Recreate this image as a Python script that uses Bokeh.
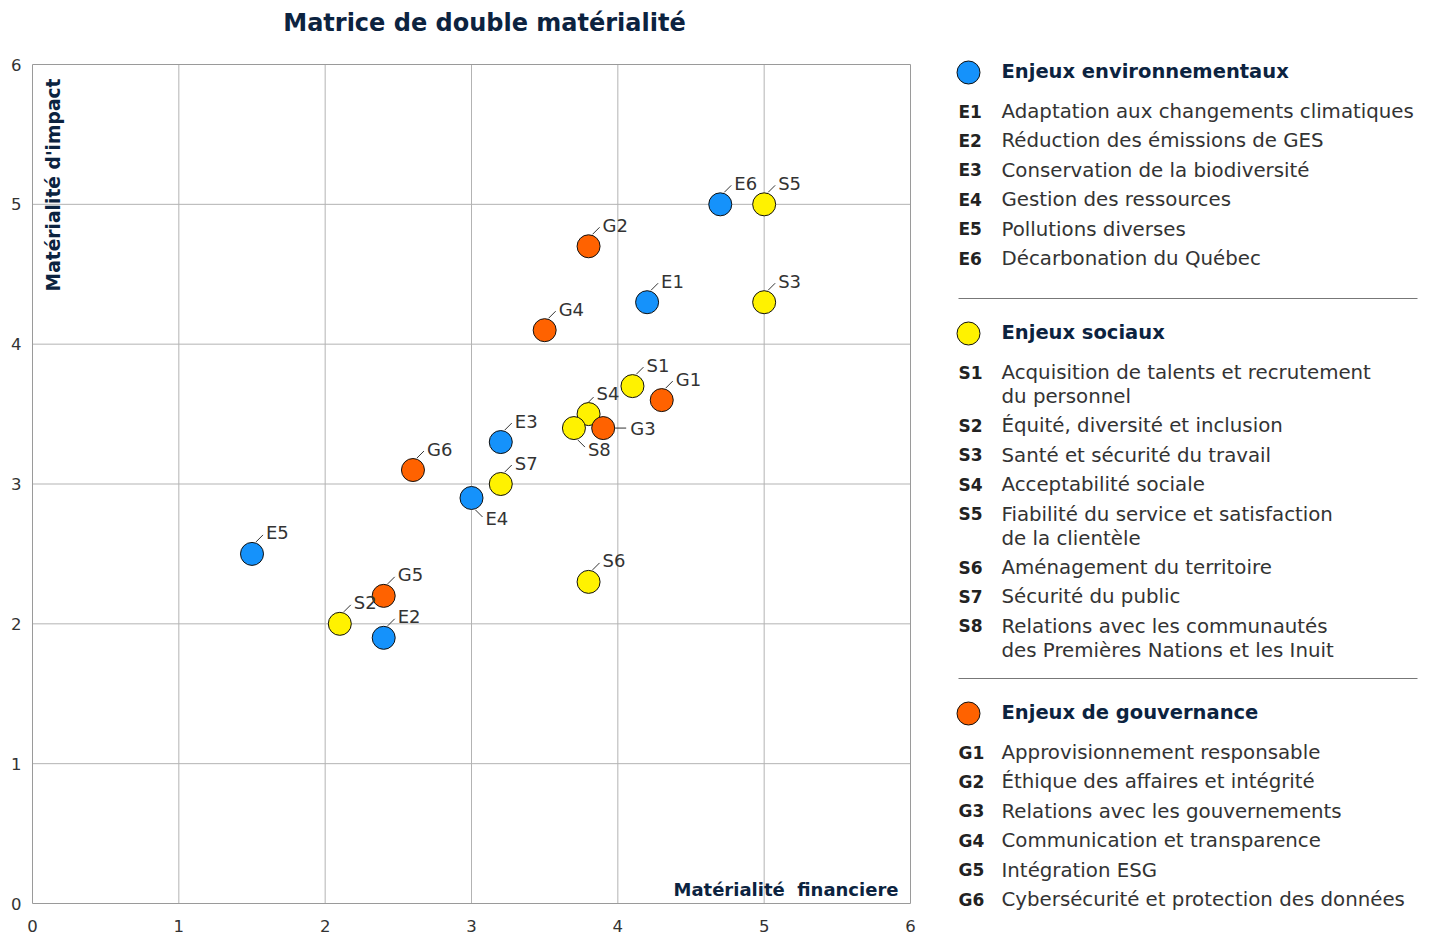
import math
from bokeh.plotting import figure
from bokeh.models import ColumnDataSource, Range1d, Label, LabelSet, FixedTicker
from bokeh.embed import file_html
from bokeh.resources import INLINE
from bokeh.core.properties import value

# ---------------- data ----------------
title_text = "Matrice de double matérialité"
x_title = "Matérialité\u00a0 financiere"
y_title = "Matérialité d'impact"
ticks = [0, 1, 2, 3, 4, 5, 6]

env_heading = "Enjeux environnementaux"
env_codes = ["E1", "E2", "E3", "E4", "E5", "E6"]
env_x = [4.2, 2.4, 3.2, 3.0, 1.5, 4.7]
env_y = [4.3, 1.9, 3.3, 2.9, 2.5, 5.0]
env_names = [
    "Adaptation aux changements climatiques",
    "Réduction des émissions de GES",
    "Conservation de la biodiversité",
    "Gestion des ressources",
    "Pollutions diverses",
    "Décarbonation du Québec",
]

soc_heading = "Enjeux sociaux"
soc_codes = ["S1", "S2", "S3", "S4", "S5", "S6", "S7", "S8"]
soc_x = [4.1, 2.1, 5.0, 3.8, 5.0, 3.8, 3.2, 3.7]
soc_y = [3.7, 2.0, 4.3, 3.5, 5.0, 2.3, 3.0, 3.4]
soc_names = [
    "Acquisition de talents et recrutement\ndu personnel",
    "Équité, diversité et inclusion",
    "Santé et sécurité du travail",
    "Acceptabilité sociale",
    "Fiabilité du service et satisfaction\nde la clientèle",
    "Aménagement du territoire",
    "Sécurité du public",
    "Relations avec les communautés\ndes Premières Nations et les Inuit",
]

gov_heading = "Enjeux de gouvernance"
gov_codes = ["G1", "G2", "G3", "G4", "G5", "G6"]
gov_x = [4.3, 3.8, 3.9, 3.5, 2.4, 2.6]
gov_y = [3.6, 4.7, 3.4, 4.1, 2.2, 3.1]
gov_names = [
    "Approvisionnement responsable",
    "Éthique des affaires et intégrité",
    "Relations avec les gouvernements",
    "Communication et transparence",
    "Intégration ESG",
    "Cybersécurité et protection des données",
]

# ---------------- style / layout ----------------
FONT = "DejaVu Sans"
NAVY = "#0c2340"
TEXT = "#333333"
COLORS = {"env": "#1592fb", "soc": "#fff200", "gov": "#ff6200"}
MARKER = 23

W, H = 1430, 934
X0P, Y0P = 32, 903          # pixel position of the data origin
FW, FH = 878, 839           # pixel size of the 0..6 square
PX = FW / 6.0
PY = FH / 6.0


def dx(px):
    return (px - X0P) / PX


def dy(py):
    return (Y0P - py) / PY


# label placement (screen px, y down): leader start, leader end, text anchor
PLACE = {
    "ur": ((4, -12), (11, -19), (14, -21)),
    "dr": ((4, 12), (11, 19), (14, 21)),
    "r": ((12, 0), (23, 0), (27, 0)),
    "u": ((-1, -11), (5, -17), (8, -21)),
}
placement = {"E4": "dr", "S8": "dr", "G3": "r", "S4": "u"}

p = figure(frame_width=W, frame_height=H,
           x_range=Range1d(dx(0), dx(W)), y_range=Range1d(dy(H), dy(0)),
           output_backend="svg", toolbar_location=None,
           min_border_left=0, min_border_right=0, min_border_top=0, min_border_bottom=0)
p.grid.visible = False
p.outline_line_color = None
p.xaxis.fixed_location = 0
p.yaxis.fixed_location = 0
p.xaxis.ticker = FixedTicker(ticks=ticks)
p.yaxis.ticker = FixedTicker(ticks=ticks)
p.axis.axis_line_color = None
p.axis.major_tick_line_color = None
p.axis.minor_tick_line_color = None
p.axis.major_tick_in = 0
p.axis.major_tick_out = 0
p.axis.major_label_text_font = FONT
p.axis.major_label_text_font_size = "16.5px"
p.axis.major_label_text_color = TEXT
p.xaxis.major_label_standoff = 16
p.yaxis.major_label_standoff = 11

# grid lines and frame, from the tick values
inner = ticks[1:-1]
p.segment(x0=inner, y0=[ticks[0]] * len(inner), x1=inner, y1=[ticks[-1]] * len(inner),
          line_color="#b3b3b3", line_width=1)
p.segment(x0=[ticks[0]] * len(inner), y0=inner, x1=[ticks[-1]] * len(inner), y1=inner,
          line_color="#b3b3b3", line_width=1)
p.quad(left=[ticks[0]], right=[ticks[-1]], bottom=[ticks[0]], top=[ticks[-1]],
       fill_color=None, line_color="#9a9a9a", line_width=1)

groups = [
    ("env", env_codes, env_x, env_y),
    ("soc", soc_codes, soc_x, soc_y),
    ("gov", gov_codes, gov_x, gov_y),
]

sx0, sy0, sx1, sy1 = [], [], [], []
lx, ly, lxo, lyo, ltxt = [], [], [], [], []
for key, codes, xs, ys in groups:
    for c, xv, yv in zip(codes, xs, ys):
        (a, b), (cc, d), (tx, ty) = PLACE[placement.get(c, "ur")]
        sx0.append(xv + a / PX)
        sy0.append(yv - b / PY)
        sx1.append(xv + cc / PX)
        sy1.append(yv - d / PY)
        lx.append(xv)
        ly.append(yv)
        lxo.append(tx)
        lyo.append(-ty)
        ltxt.append(c)

p.segment(x0=sx0, y0=sy0, x1=sx1, y1=sy1, line_color="#333333", line_width=1)

for key, codes, xs, ys in groups:
    p.scatter(x=xs, y=ys, size=MARKER, fill_color=COLORS[key], line_color="#111111",
              line_width=1)

lsrc = ColumnDataSource(dict(x=lx, y=ly, xo=lxo, yo=lyo, t=ltxt))
p.add_layout(LabelSet(x="x", y="y", x_offset="xo", y_offset="yo", text="t", source=lsrc,
                      text_font=value(FONT), text_font_size="18px", text_color=TEXT,
                      text_baseline="middle", text_align="left"))

p.add_layout(Label(x=dx(484), y=dy(22), text=title_text,
                   text_font=FONT, text_font_size="24px", text_font_style="bold",
                   text_color=NAVY, text_align="center", text_baseline="middle"))
p.add_layout(Label(x=0, y=6, x_offset=21, y_offset=-14, text=y_title, angle=math.pi / 2,
                   text_font=FONT, text_font_size="18.7px", text_font_style="bold",
                   text_color=NAVY, text_align="right", text_baseline="middle"))
p.add_layout(Label(x=6, y=0, x_offset=-12, y_offset=14, text=x_title,
                   text_font=FONT, text_font_size="18px", text_font_style="bold",
                   text_color=NAVY, text_align="right", text_baseline="alphabetic"))

# ---------------- legend panel ----------------
heading_y = [71, 332, 712]
separator_y = [298, 678]
ROW = 29.4
SUB = 24
legend_groups = [
    ("env", env_heading, env_codes, env_names),
    ("soc", soc_heading, soc_codes, soc_names),
    ("gov", gov_heading, gov_codes, gov_names),
]
cx, cy, ccol = [], [], []
hx, hy, ht = [], [], []
kx, ky, kt = [], [], []
nx, ny, nt = [], [], []
for (key, head, codes, names), hy0 in zip(legend_groups, heading_y):
    cx.append(dx(968))
    cy.append(dy(hy0 + 1))
    ccol.append(COLORS[key])
    hx.append(dx(1001))
    hy.append(dy(hy0))
    ht.append(head)
    yy = hy0 + 40
    for c, n in zip(codes, names):
        kx.append(dx(958))
        ky.append(dy(yy))
        kt.append(c)
        lines = n.split("\n")
        for i, ln in enumerate(lines):
            nx.append(dx(1001))
            ny.append(dy(yy + i * SUB))
            nt.append(ln)
        yy += ROW + SUB * (len(lines) - 1)

p.scatter(x=cx, y=cy, size=MARKER, fill_color=ccol, line_color="#111111", line_width=1)
p.text(x=hx, y=hy, text=ht, text_font=value(FONT), text_font_size="19.5px",
       text_font_style="bold", text_color=NAVY, text_baseline="middle", text_align="left")
p.text(x=kx, y=ky, text=kt, text_font=value(FONT), text_font_size="17px",
       text_font_style="bold", text_color="#222222", text_baseline="middle", text_align="left")
p.text(x=nx, y=ny, text=nt, text_font=value(FONT), text_font_size="19.8px",
       text_color=TEXT, text_baseline="middle", text_align="left")
p.segment(x0=[dx(958)] * len(separator_y), y0=[dy(v) for v in separator_y],
          x1=[dx(1417)] * len(separator_y), y1=[dy(v) for v in separator_y],
          line_color="#777777", line_width=1)

open("out.html", "w").write(file_html(p, INLINE))
